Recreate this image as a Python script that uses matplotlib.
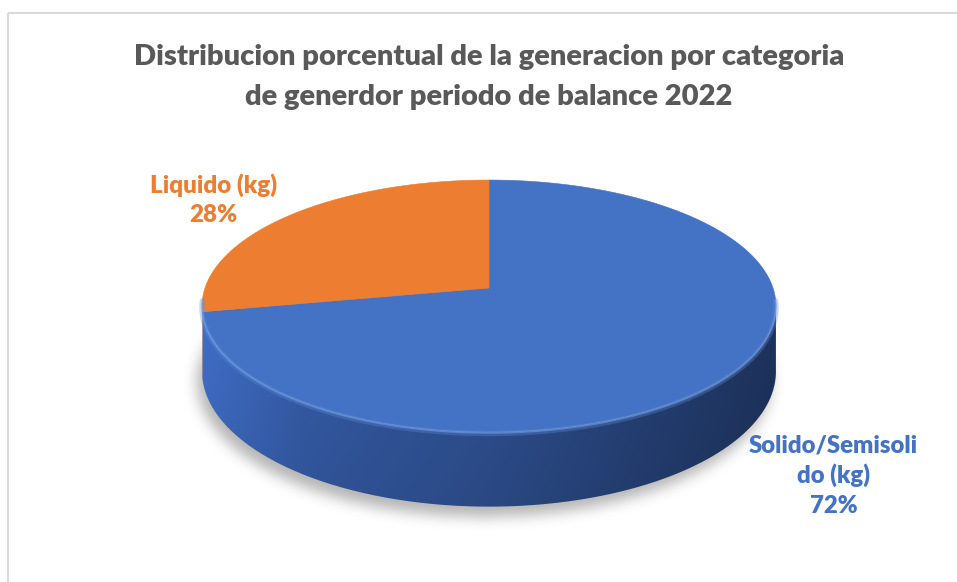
import numpy as np
import matplotlib
matplotlib.use("Agg")
import matplotlib.pyplot as plt
from matplotlib.path import Path
from matplotlib.patches import PathPatch
from matplotlib.colors import to_rgb

# ---------------- data ----------------
title_lines = ["Distribucion porcentual de la generacion por categoria",
               "de generdor periodo de balance 2022"]
categories = ["Solido/Semisolido (kg)", "Liquido (kg)"]
values = [72, 28]
label_wrap = [["Solido/Semisoli", "do (kg)"], ["Liquido (kg)"]]
colors = ["#4472C4", "#ED7D31"]
side_colors = ["#2c4c8a", "#b85f22"]

# ---------------- layout ----------------
W, H = 957, 582
CX, CY = 489, 288          # projected pie centre
A, B, K = 284, 123.4, 0.1429
DEPTH = 64
FONT = ["Lato", "DejaVu Sans"]

fig = plt.figure(figsize=(W / 100, H / 100), dpi=100)
ax = fig.add_axes([0, 0, 1, 1])
ax.set_xlim(0, W)
ax.set_ylim(H, 0)
ax.axis("off")


def proj(t_deg, z=0.0):
    t = np.radians(t_deg)
    u, v = np.cos(t), np.sin(t)
    s = 1.0 / (1.0 + K * v)
    return CX + A * u * s, CY - B * v * s + z * s


# chart frame
ax.plot([8, 8], [13, H], color="#d9d9d9", lw=1.5, solid_capstyle="butt")
ax.plot([8, W], [13, 13], color="#d9d9d9", lw=1.5, solid_capstyle="butt")

# wedge angles (Excel: first slice at 12 o'clock, clockwise)
total = float(sum(values))
wedges = []
start = 90.0
for v in values:
    sweep = 360.0 * v / total
    wedges.append((start - sweep, start))
    start -= sweep

# ---------------- shadow ----------------
tt = np.linspace(0, 360, 721)
bx, by = proj(tt, DEPTH)
shadow_path = Path(np.column_stack([bx - 5, by + 10]))
gx, gy = np.meshgrid(np.arange(W) + 0.5, np.arange(H) + 0.5)
mask = shadow_path.contains_points(np.column_stack([gx.ravel(), gy.ravel()])).reshape(H, W).astype(float)


def box_blur(img, r):
    out = img.copy()
    for axis in (0, 1):
        c = np.cumsum(np.pad(out, [(r + 1, r) if a == axis else (0, 0) for a in (0, 1)], mode="edge"), axis=axis)
        if axis == 0:
            out = (c[2 * r + 1:, :] - c[:-2 * r - 1, :]) / (2 * r + 1)
        else:
            out = (c[:, 2 * r + 1:] - c[:, :-2 * r - 1]) / (2 * r + 1)
    return out


blur = mask
for _ in range(3):
    blur = box_blur(blur, 6)
rgba = np.zeros((H, W, 4))
rgba[..., :3] = 0.42
rgba[..., 3] = blur * 0.5
ax.imshow(rgba, extent=(0, W, H, 0), origin="upper", zorder=1, interpolation="bilinear")

# ---------------- sides ----------------
t_vis = (180 + np.degrees(np.arcsin(K)), 360 - np.degrees(np.arcsin(K)))
xl, xr = CX - A * 1.011, CX + A * 1.011
stops_x = [0.0, 0.18, 0.5, 0.78, 1.0]
for i, (lo, hi) in enumerate(wedges):
    for n in (-1, 0, 1):
        a0, a1 = max(lo + 360 * n, t_vis[0]), min(hi + 360 * n, t_vis[1])
        if a1 <= a0:
            continue
        ts = np.linspace(a0, a1, 300)
        x0, y0 = proj(ts)
        x1, y1 = proj(ts[::-1], DEPTH)
        verts = np.column_stack([np.r_[x0, x1], np.r_[y0, y1]])
        patch = PathPatch(Path(verts), facecolor="none", edgecolor="none", zorder=2)
        ax.add_patch(patch)
        base = np.array(to_rgb(side_colors[i]))
        factors = [1.38, 1.15, 1.0, 0.8, 0.64]
        nx = 400
        xs = np.linspace(0, 1, nx)
        fac = np.interp(xs, stops_x, factors)
        ytop, ybot = verts[:, 1].min(), verts[:, 1].max()
        ny = 100
        vfac = np.linspace(1.05, 0.95, ny)
        img = np.clip(base[None, None, :] * fac[None, :, None] * vfac[:, None, None], 0, 1)
        im = ax.imshow(img, extent=(xl, xr, ybot, ytop), origin="upper", zorder=2,
                       interpolation="bilinear", aspect="auto")
        im.set_clip_path(patch)

# ---------------- top faces ----------------
for i, (lo, hi) in enumerate(wedges):
    ts = np.linspace(hi, lo, 400)
    x, y = proj(ts)
    verts = np.column_stack([np.r_[CX, x, CX], np.r_[CY, y, CY]])
    ax.add_patch(PathPatch(Path(verts), facecolor=colors[i], edgecolor=colors[i], lw=0.4, zorder=3))

# front bevel highlight on top rim
ts = np.linspace(t_vis[0] - 3, t_vis[1] + 3, 400)
hx, hy = proj(ts)
ax.plot(hx, hy + 1.5, color="#5b8ad8", lw=4.0, alpha=0.35, zorder=4, solid_capstyle="round")
ax.plot(hx, hy + 0.8, color="#7ba3e8", lw=1.4, alpha=0.55, zorder=4, solid_capstyle="round")

# ---------------- texts ----------------
renderer = fig.canvas.get_renderer()


def place_lines(lines, xc, baselines, color, target_w):
    objs = [ax.text(xc, yb, s, ha="center", va="baseline", color=color,
                    fontsize=20, fontweight="heavy", family=FONT, zorder=6)
            for s, yb in zip(lines, baselines)]
    wmax = max(o.get_window_extent(renderer).width for o in objs)
    fs = 20 * target_w / wmax
    for o in objs:
        o.set_fontsize(fs)
    return objs


place_lines(title_lines, 489, [65, 105], "#595959", 712)

pct = [f"{v / total * 100:.0f}%" for v in values]
place_lines(label_wrap[1] + [pct[1]], 213.5, [193, 222], colors[1], 127)
place_lines(label_wrap[0] + [pct[0]], 833.5, [452, 483, 513], colors[0], 169)

fig.savefig("out.png", dpi=100)
